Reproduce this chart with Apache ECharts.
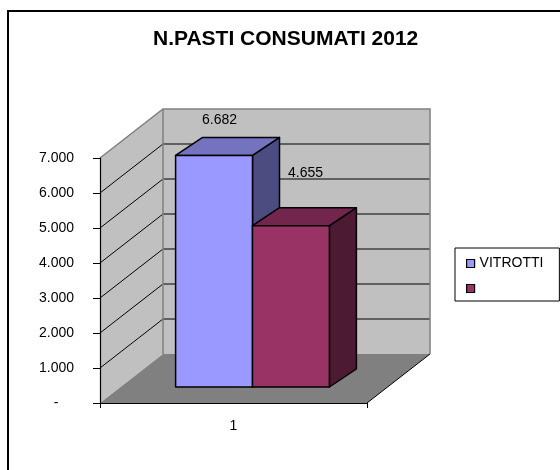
<!DOCTYPE html>
<html>
<head>
<meta charset="utf-8">
<script src="https://cdn.jsdelivr.net/npm/echarts@6/dist/echarts.min.js"></script>
<style>html,body{margin:0;padding:0;background:#fff}#c{width:560px;height:470px}</style>
</head>
<body>
<div id="c"></div>
<script>
// ---- data ----
var categories = ['1'];
var seriesNames = ['VITROTTI', ' '];
var vitrottiValues = [6682];
var secondValues = [4655];
var yTicks = [0, 1000, 2000, 3000, 4000, 5000, 6000, 7000];
var titleText = 'N.PASTI CONSUMATI 2012';

// ---- style ----
var FONT = "'Liberation Sans', Arial, sans-serif";
var WALL = [63, -49];      // depth of back wall
var BAR_OFF = [19, -16];   // bar front face offset into depth
var BAR_D = [27, -18];     // bar depth
var BAR_FRAC = 0.288;      // bar width as fraction of band
var PERSP = 0.99;
var colors = [
  {front: '#9999FF', top: '#7373BF', side: '#4C4C80'},
  {front: '#993366', top: '#73264D', side: '#4D1A33'}
];
var labelOffsets = [[44, -35], [53, -53]];
function fmt(v) {
  if (v === 0) return '-    ';
  var s = String(Math.round(v));
  return s.replace(/\B(?=(\d{3})+(?!\d))/g, '.');
}

var chart = echarts.init(document.getElementById('c'), null, {renderer: 'canvas'});

function wallsRender(params, api) {
  var f0 = api.coord([0, 0]);
  var bw = api.size([1, 0])[0];
  var xl = f0[0] - bw / 2, xr = f0[0] + bw / 2;
  var yb = f0[1];
  var yt = api.coord([0, yTicks[yTicks.length - 1]])[1];
  var dx = WALL[0], dy = WALL[1];
  var ch = [];
  ch.push({type: 'polygon', shape: {points: [[xl, yb], [xl + dx, yb + dy], [xl + dx, yt + dy], [xl, yt]]},
    style: {fill: '#C0C0C0', stroke: null}});
  ch.push({type: 'rect', shape: {x: xl + dx, y: yt + dy, width: xr - xl, height: yb - yt},
    style: {fill: '#C0C0C0', stroke: null}});
  ch.push({type: 'polygon', shape: {points: [[xl, yb], [xr, yb], [xr + dx, yb + dy], [xl + dx, yb + dy]]},
    style: {fill: '#808080', stroke: null}});
  for (var i = 1; i < yTicks.length - 1; i++) {
    var y = api.coord([0, yTicks[i]])[1];
    ch.push({type: 'line', shape: {x1: xl + dx, y1: y + dy, x2: xr + dx, y2: y + dy},
      style: {stroke: '#000', lineWidth: 1}});
    ch.push({type: 'line', shape: {x1: xl, y1: y, x2: xl + dx, y2: y + dy},
      style: {stroke: '#000', lineWidth: 1}});
  }
  // wall edges
  ch.push({type: 'polyline', shape: {points: [[xl, yt], [xl + dx, yt + dy], [xr + dx, yt + dy], [xr + dx, yb + dy]]},
    style: {stroke: '#808080', lineWidth: 1.5, fill: null}});
  ch.push({type: 'line', shape: {x1: xl + dx, y1: yt + dy, x2: xl + dx, y2: yb + dy},
    style: {stroke: '#808080', lineWidth: 1.5}});
  ch.push({type: 'line', shape: {x1: xr, y1: yb, x2: xr + dx, y2: yb + dy},
    style: {stroke: '#000', lineWidth: 1}});
  return {type: 'group', children: ch, silent: true};
}

function makeBarRender(si) {
  return function (params, api) {
    var ci = api.value(0);
    var val = api.value(1);
    var base = api.coord([ci, 0]);
    var top = api.coord([ci, val]);
    var bw = api.size([1, 0])[0];
    var w = bw * BAR_FRAC;
    var x0 = base[0] - w + si * w + BAR_OFF[0];
    var yB = base[1] + BAR_OFF[1];
    var yT = yB - (base[1] - top[1]) * PERSP;
    var dX = BAR_D[0], dY = BAR_D[1];
    var c = colors[si];
    var st = {stroke: '#000', lineWidth: 1.5, lineJoin: 'round'};
    return {type: 'group', children: [
      {type: 'polygon', shape: {points: [[x0 + w, yT], [x0 + w + dX, yT + dY], [x0 + w + dX, yB + dY], [x0 + w, yB]]},
        style: Object.assign({fill: c.side}, st)},
      {type: 'polygon', shape: {points: [[x0, yT], [x0 + dX, yT + dY], [x0 + w + dX, yT + dY], [x0 + w, yT]]},
        style: Object.assign({fill: c.top}, st)},
      {type: 'rect', shape: {x: x0, y: yT, width: w, height: yB - yT},
        style: Object.assign({fill: c.front}, st)},
      {type: 'text', x: x0 + labelOffsets[si][0], y: yT + labelOffsets[si][1],
        style: {text: fmt(val), fill: '#000', font: '14px ' + FONT, align: 'center', verticalAlign: 'middle'}}
    ]};
  };
}

var option = {
  backgroundColor: '#fff',
  animation: false,
  title: {
    text: titleText, left: 153, top: 29, padding: 0,
    textStyle: {fontFamily: FONT, fontSize: 21, fontWeight: 'bold', color: '#000'}
  },
  legend: {
    orient: 'vertical', left: 455, top: 248,
    padding: [8, 16, 5, 11], itemGap: 10, itemWidth: 8, itemHeight: 8,
    borderColor: '#000', borderWidth: 1, icon: 'rect',
    data: seriesNames.map(function (n, i) {
      return {name: n, itemStyle: {color: colors[i].front, borderColor: '#000', borderWidth: 1.2}};
    }),
    textStyle: {fontFamily: FONT, fontSize: 14, color: '#000', lineHeight: 15}
  },
  graphic: [{type: 'rect', shape: {x: 8, y: 11, width: 620, height: 600},
    style: {fill: null, stroke: '#000', lineWidth: 2}, z: 100, silent: true}],
  grid: {left: 100, right: 193, top: 158, bottom: 67},
  xAxis: {
    type: 'category', data: categories, boundaryGap: true,
    axisLine: {lineStyle: {color: '#000', width: 1.2}},
    axisTick: {show: true, length: 5, lineStyle: {color: '#000'}},
    axisLabel: {margin: 16, color: '#000', fontFamily: FONT, fontSize: 14},
    splitLine: {show: false}, z: 10
  },
  yAxis: {
    type: 'value', min: 0, max: 7000, interval: 1000,
    axisLine: {show: true, lineStyle: {color: '#000', width: 1.2}},
    axisTick: {show: true, length: 7, lineStyle: {color: '#000'}},
    axisLabel: {margin: 26, color: '#000', fontFamily: FONT, fontSize: 14, formatter: fmt},
    splitLine: {show: false}, z: 10
  },
  series: [
    {type: 'custom', name: '__walls', renderItem: wallsRender, data: [[0, 0]], z: 1, silent: true},
    {type: 'custom', name: seriesNames[0], renderItem: makeBarRender(0), itemStyle: {color: colors[0].front},
      data: vitrottiValues.map(function (v, i) { return [i, v]; }), z: 2},
    {type: 'custom', name: seriesNames[1], renderItem: makeBarRender(1), itemStyle: {color: colors[1].front},
      data: secondValues.map(function (v, i) { return [i, v]; }), z: 3}
  ]
};
chart.setOption(option);
</script>
</body>
</html>
